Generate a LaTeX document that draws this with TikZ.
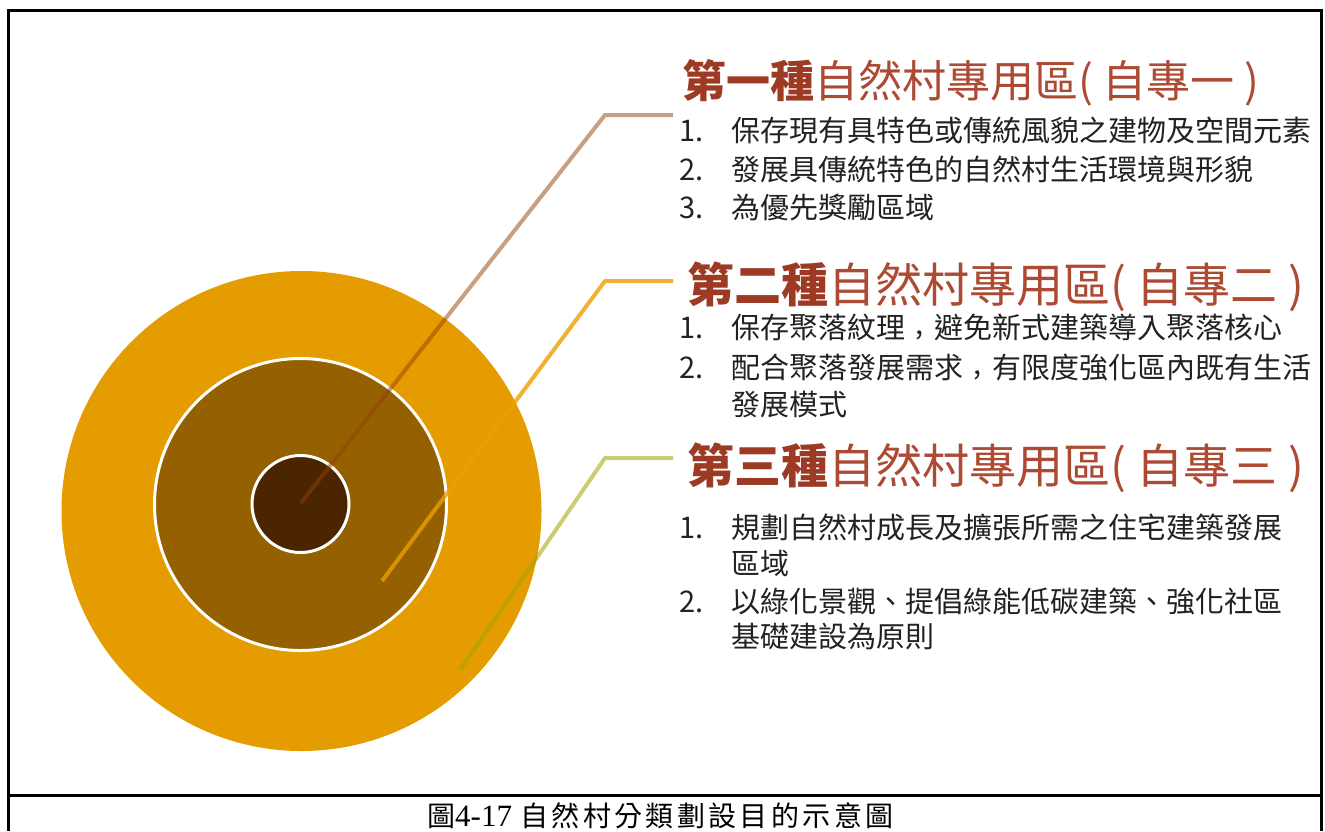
\documentclass[tikz,border=0pt]{standalone}
\usepackage{fontspec}
\newfontfamily\cjk[Script=CJK,Language=Chinese Traditional]{Noto Sans CJK TC}
\newfontfamily\capcjk[Script=CJK,Language=Chinese Traditional,LetterSpace=12]{Noto Sans CJK TC}
\newfontfamily\capnum{Liberation Serif}
\newcommand\tccomma{\makebox[1em][c]{\raisebox{0.12em}{,}}}
\definecolor{outerc}{HTML}{E59C00}
\definecolor{middlec}{HTML}{956000}
\definecolor{innerc}{HTML}{4A2500}
\definecolor{leadA}{RGB}{147,65,5}
\definecolor{leadB}{RGB}{236,159,0}
\definecolor{leadC}{RGB}{163,163,0}
\definecolor{titledark}{HTML}{9C3A24}
\definecolor{titlered}{HTML}{AD4A33}
\definecolor{itemgray}{HTML}{222222}
\tikzset{
  ring/.style={circle, inner sep=0pt, draw=white, line width=3pt},
  ttl/.style={anchor=base west, inner sep=0pt, text=titlered},
  itm/.style={anchor=base west, inner sep=0pt, text=itemgray, font=\cjk\fontsize{29}{34}\selectfont},
  lead/.style={line width=4pt, line join=miter},
}
\begin{document}
\begin{tikzpicture}[x=1pt,y=-1pt]
\useasboundingbox (0,0) rectangle (1325,831);
\fill[white] (0,0) rectangle (1325,831);
% frame
\draw[line width=3pt] (8,831) -- (8,10) -- (1321,10) -- (1321,831);
\draw[line width=3pt] (8,795) -- (1321,795);
% circles
\node[circle, inner sep=0pt, fill=outerc, minimum size=480pt] (outer) at (301.5,511) {};
\node[ring, fill=middlec, minimum size=292pt] (middle) at (300.5,504.5) {};
\node[ring, fill=innerc, minimum size=97pt] (inner) at (300.5,504) {};
% leader coordinates
\coordinate (a0) at (301,503);
\coordinate (a1) at (605,115);
\coordinate (a2) at (673,115);
\coordinate (b0) at (382,581);
\coordinate (b1) at (605,281);
\coordinate (b2) at (673,281);
\coordinate (c0) at (460,670);
\coordinate (c1) at (605,458);
\coordinate (c2) at (673,458);
\draw[lead, draw=leadA, opacity=0.5] (a0) -- (a1) -- (a2);
\draw[lead, draw=leadB, opacity=0.8] (b0) -- (b1) -- (b2);
\draw[lead, draw=leadC, opacity=0.55] (c0) -- (c1) -- (c2);
% titles
\node[ttl, font=\cjk\fontsize{44}{50}\selectfont] (t1) at (682,97)
  {\textcolor{titledark}{\bfseries 第一種}自然村專用區( 自專一 )};
\node[ttl, font=\cjk\fontsize{47}{52}\selectfont] (t2) at (687,302)
  {\textcolor{titledark}{\bfseries 第二種}自然村專用區( 自專二 )};
\node[ttl, font=\cjk\fontsize{47}{52}\selectfont] (t3) at (687,483)
  {\textcolor{titledark}{\bfseries 第三種}自然村專用區( 自專三 )};
% group 1
\node[itm] (n11) at (679,141) {1.};
\node[itm] (i11) at (731,141) {保存現有具特色或傳統風貌之建物及空間元素};
\node[itm] (n12) at (679,180) {2.};
\node[itm] (i12) at (731,180) {發展具傳統特色的自然村生活環境與形貌};
\node[itm] (n13) at (679,218) {3.};
\node[itm] (i13) at (731,218) {為優先獎勵區域};
% group 2
\node[itm] (n21) at (679,338) {1.};
\node[itm] (i21) at (731,338) {保存聚落紋理\tccomma 避免新式建築導入聚落核心};
\node[itm] (n22) at (679,378) {2.};
\node[itm] (i22) at (731,378) {配合聚落發展需求\tccomma 有限度強化區內既有生活};
\node[itm] (i22b) at (731,415) {發展模式};
% group 3
\node[itm] (n31) at (679,538) {1.};
\node[itm] (i31) at (731,538) {規劃自然村成長及擴張所需之住宅建築發展};
\node[itm] (i31b) at (731,574) {區域};
\node[itm] (n32) at (679,612) {2.};
\node[itm] (i32) at (731,612) {以綠化景觀、提倡綠能低碳建築、強化社區};
\node[itm] (i32b) at (731,647) {基礎建設為原則};
% caption
\node[anchor=base west, inner sep=0pt, font=\fontsize{28}{30}\selectfont] (cap) at (427,826)
  {{\capcjk 圖}{\capnum\fontsize{31}{31}\selectfont 4-17} {\capcjk 自然村分類劃設目的示意圖}};
\end{tikzpicture}
\end{document}
